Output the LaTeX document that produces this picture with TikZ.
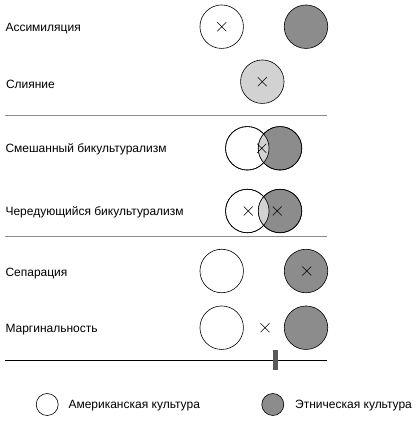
\documentclass[tikz,border=0pt]{standalone}
\usepackage{fontspec}
\setmainfont{Liberation Sans}
\usetikzlibrary{shapes.misc}
\definecolor{ethn}{RGB}{140,140,140}
\definecolor{mixg}{RGB}{210,210,210}
\definecolor{rule}{RGB}{140,140,140}
\begin{document}
\begin{tikzpicture}[x=1pt,y=-1pt,
  lbl/.style={anchor=base west,inner sep=0pt,font=\fontsize{12}{14}\selectfont},
  cul/.style={circle,draw=black,line width=0.6pt,minimum size=43.5pt,inner sep=0pt},
  amer/.style={cul,fill=white},
  ethc/.style={cul,fill=ethn},
  fus/.style={cul,fill=mixg},
  xmark/.style={cross out,draw=black,line width=0.5pt,minimum size=8.5pt,inner sep=0pt},
  sep/.style={draw=rule,line width=1pt},
  legc/.style={circle,draw=black,line width=0.6pt,minimum size=22pt,inner sep=0pt}]
\useasboundingbox (0,0) rectangle (420,423);
% labels
\node[lbl] (l1) at (5.3,31.2) {Ассимиляция};
\node[lbl] (l2) at (5.8,88) {Слияние};
\node[lbl] (l3) at (5.3,152.7) {Смешанный бикультурализм};
\node[lbl] (l4) at (5.3,215.3) {Чередующийся бикультурализм};
\node[lbl] (l5) at (5.3,276.5) {Сепарация};
\node[lbl] (l6) at (5.3,332.5) {Маргинальность};
% assimilation
\node[amer] (a1) at (221.7,26.7) {};
\node[ethc] (e1) at (306,26.7) {};
\node[xmark] (x1) at (a1) {};
% fusion
\node[fus] (f2) at (262.3,81.7) {};
\node[xmark] (x2) at (f2) {};
% line 1
\coordinate (s1a) at (5,115); \coordinate (s1b) at (327,115);
\draw[sep] (s1a) -- (s1b);
% mixed
\node[amer] (a3) at (247.3,148.3) {};
\node[ethc] (e3) at (280,148.3) {};
\begin{scope}
  \clip (a3.center) circle[radius=21.75pt];
  \fill[mixg] (e3.center) circle[radius=21.75pt];
\end{scope}
\draw[line width=0.6pt] (a3.center) circle[radius=21.75pt];
\draw[line width=0.6pt] (e3.center) circle[radius=21.75pt];
\node[xmark] (x3) at (261.7,148.3) {};
% alternating
\node[amer] (a4) at (247.3,211) {};
\node[ethc] (e4) at (280,211) {};
\begin{scope}
  \clip (a4.center) circle[radius=21.75pt];
  \fill[mixg] (e4.center) circle[radius=21.75pt];
\end{scope}
\draw[line width=0.6pt] (a4.center) circle[radius=21.75pt];
\draw[line width=0.6pt] (e4.center) circle[radius=21.75pt];
\node[xmark] (x4a) at (248.3,211) {};
\node[xmark] (x4b) at (277.3,211) {};
% line 2
\coordinate (s2a) at (5,236.7); \coordinate (s2b) at (327,236.7);
\draw[sep] (s2a) -- (s2b);
% separation
\node[amer] (a5) at (221.7,271) {};
\node[ethc] (e5) at (306,271) {};
\node[xmark] (x5) at (306.7,271) {};
% marginality
\node[amer] (a6) at (221.7,327.7) {};
\node[ethc] (e6) at (306,327.7) {};
\node[xmark] (x6) at (265,327.7) {};
% line 3
\coordinate (s3a) at (5,360); \coordinate (s3b) at (327,360);
\draw[black,line width=0.8pt] (s3a) -- (s3b);
\fill[black!65] (273.3,350) rectangle (278,369.5);
% legend
\node[legc,fill=white] (lg1) at (47.2,404.5) {};
\node[lbl] (lt1) at (68.3,408.8) {Американская культура};
\node[legc,fill=ethn] (lg2) at (272.8,404.5) {};
\node[lbl] (lt2) at (295,408.8) {Этническая культура};
\end{tikzpicture}
\end{document}
